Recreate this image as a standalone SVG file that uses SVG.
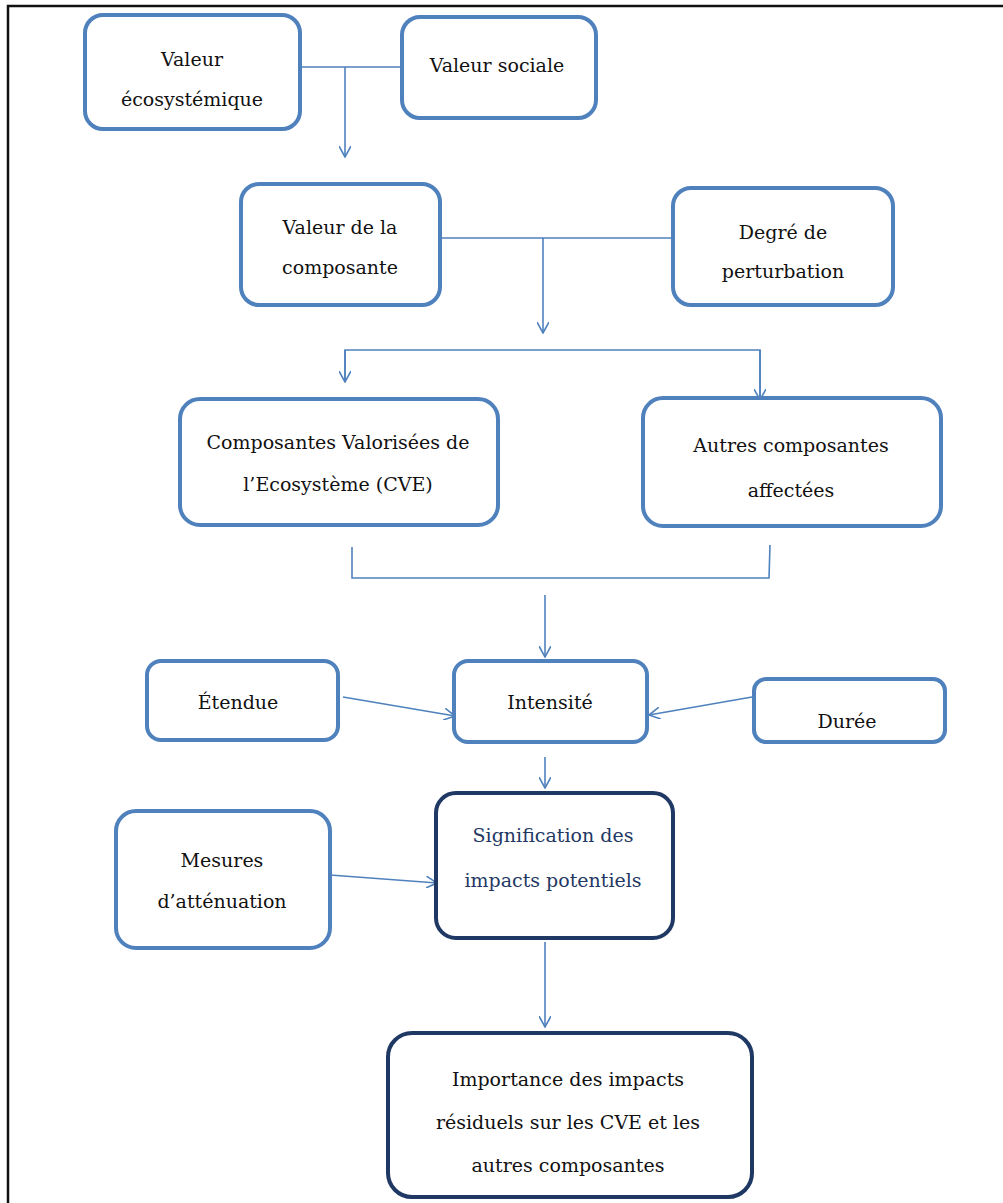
<svg xmlns="http://www.w3.org/2000/svg" width="1003" height="1203" viewBox="0 0 1003 1203">
<style>
.box{fill:#fff;stroke:#4f81bd;stroke-width:4}
.dark{fill:#fff;stroke:#1f3864;stroke-width:4}
text{font-family:'DejaVu Serif','Liberation Serif',serif;font-size:19px;fill:#111;text-anchor:middle}
.tb{fill:#1f3864}
.c{fill:none;stroke:#4f81bd;stroke-width:1.6}
.a{fill:none;stroke:#4f81bd;stroke-width:1.6;marker-end:url(#arr)}
</style>
<defs>
<marker id="arr" viewBox="0 0 12 12" refX="11" refY="6" markerWidth="12" markerHeight="12" markerUnits="userSpaceOnUse" orient="auto">
<path d="M0,0 L11,6 L0,12" fill="none" stroke="#4f81bd" stroke-width="1.6"/>
</marker>
</defs>
<rect width="1003" height="1203" fill="#fff"/>
<path d="M8,1203 V6 H1003" fill="none" stroke="#111" stroke-width="2.5"/>
<g id="connectors">
<path class="c" d="M300,67 H402"/>
<path class="a" d="M345,67 V157"/>
<path class="c" d="M440,238 H673"/>
<path class="a" d="M543,238 V333"/>
<path class="c" d="M345,382 V350 H760 V400"/>
<path class="a" d="M345,350 V382"/>
<path class="a" d="M760,350 V400"/>
<path class="c" d="M352,547 V578 H769 L770,545"/>
<path class="a" d="M545,595 V657"/>
<path class="a" d="M343,697 L455,716"/>
<path class="a" d="M752,697 L649,715"/>
<path class="a" d="M545,757 V788"/>
<path class="a" d="M330,875 L437,883"/>
<path class="a" d="M545,942 V1027"/>
</g>
<g id="valeur-eco">
<rect class="box" x="85" y="15" width="215" height="114" rx="18"/>
<text x="192" y="66">Valeur</text>
<text x="192" y="106">écosystémique</text>
</g>
<g id="valeur-sociale">
<rect class="box" x="402" y="17" width="194" height="101" rx="18"/>
<text x="497" y="72">Valeur sociale</text>
</g>
<g id="valeur-composante">
<rect class="box" x="241" y="184" width="199" height="121" rx="18"/>
<text x="340" y="234">Valeur de la</text>
<text x="340" y="274">composante</text>
</g>
<g id="degre">
<rect class="box" x="673" y="188" width="220" height="117" rx="18"/>
<text x="783" y="239">Degré de</text>
<text x="783" y="278">perturbation</text>
</g>
<g id="cve">
<rect class="box" x="180" y="399" width="318" height="126" rx="20"/>
<text x="338" y="449">Composantes Valorisées de</text>
<text x="338" y="491">l’Ecosystème (CVE)</text>
</g>
<g id="autres">
<rect class="box" x="643" y="398" width="298" height="128" rx="20"/>
<text x="791" y="452">Autres composantes</text>
<text x="791" y="497">affectées</text>
</g>
<g id="etendue">
<rect class="box" x="147" y="661" width="191" height="79" rx="14"/>
<text x="238" y="709">Étendue</text>
</g>
<g id="intensite">
<rect class="box" x="454" y="661" width="193" height="81" rx="14"/>
<text x="550" y="709">Intensité</text>
</g>
<g id="duree">
<rect class="box" x="754" y="679" width="191" height="63" rx="12"/>
<text x="847" y="728">Durée</text>
</g>
<g id="mesures">
<rect class="box" x="116" y="811" width="214" height="137" rx="20"/>
<text x="222" y="867">Mesures</text>
<text x="222" y="908">d’atténuation</text>
</g>
<g id="signification">
<rect class="dark" x="436" y="793" width="237" height="145" rx="20"/>
<text class="tb" x="553" y="842">Signification des</text>
<text class="tb" x="553" y="887">impacts potentiels</text>
</g>
<g id="importance">
<rect class="dark" x="388" y="1033" width="364" height="164" rx="24"/>
<text x="568" y="1086">Importance des impacts</text>
<text x="568" y="1129">résiduels sur les CVE et les</text>
<text x="568" y="1172">autres composantes</text>
</g>
</svg>
